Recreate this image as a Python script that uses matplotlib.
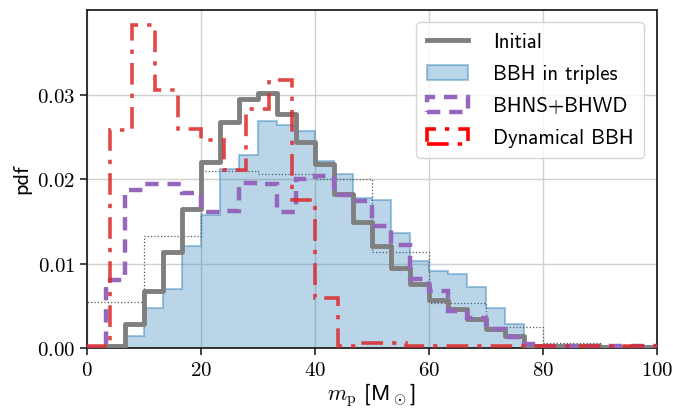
import matplotlib
matplotlib.use('Agg')
import matplotlib.pyplot as plt
import numpy as np

# bin edges (3.33 width for most, 4 for dynamical, 10 for the thin dotted one)
edges_fine = np.linspace(0, 100, 31)
edges_dyn = np.linspace(0, 100, 26)
edges_wide = np.linspace(0, 100, 11)

initial = [0.0, 0.0003, 0.0028, 0.0068, 0.0114, 0.0165, 0.0221, 0.0268, 0.0295, 0.0302,
           0.0278, 0.0244, 0.0218, 0.0183, 0.0149, 0.0121, 0.0095, 0.0076, 0.0057, 0.0046,
           0.0035, 0.0023, 0.0014, 0.0003, 0.0002, 0.0002, 0.0002, 0.0001, 0.0001, 0.0001]
bbh_triples = [0.0, 0.0, 0.0014, 0.0047, 0.0070, 0.0121, 0.0158, 0.0212, 0.0229, 0.0269,
               0.0265, 0.0257, 0.0222, 0.0206, 0.0178, 0.0176, 0.0137, 0.0103, 0.0092, 0.0088,
               0.0072, 0.0047, 0.0028, 0.0002, 0.0001, 0.0001, 0.0001, 0.0001, 0.0001, 0.0001]
bhns_bhwd = [0.0, 0.0081, 0.0188, 0.0195, 0.0194, 0.0184, 0.0161, 0.0162, 0.0196, 0.0194,
             0.0161, 0.0200, 0.0204, 0.0182, 0.0175, 0.0145, 0.0122, 0.0082, 0.0068, 0.0044,
             0.0036, 0.0023, 0.0013, 0.0005, 0.0003, 0.0002, 0.0002, 0.0002, 0.0002, 0.0002]
dyn_bbh = [0.0002, 0.0259, 0.0383, 0.0306, 0.0260, 0.0247, 0.0211, 0.0283, 0.0318, 0.0176,
           0.0059, 0.0002, 0.0006, 0.0006, 0.0002, 0.0002, 0.0002, 0.0002, 0.0002, 0.0002,
           0.0002, 0.0002, 0.0002, 0.0002, 0.0002]
wide = [0.0055, 0.0133, 0.0210, 0.0206, 0.0201, 0.0114, 0.0053, 0.0025, 0.0006, 0.0002]

xticks = [0, 20, 40, 60, 80, 100]
yticks = [0.0, 0.01, 0.02, 0.03]

plt.rcParams['mathtext.fontset'] = 'cm'
plt.rcParams['axes.formatter.use_mathtext'] = True

fig = plt.figure(figsize=(6.73, 4.11), dpi=100)
ax = fig.add_axes([0.129, 0.153, 0.847, 0.823])

ax.stairs(wide, edges_wide, color='#555555', lw=0.9, ls=':', zorder=2)
ax.stairs(bbh_triples, edges_fine, fill=True, color='tab:blue', alpha=0.3, lw=0, zorder=2)
ax.stairs(bbh_triples, edges_fine, color='tab:blue', alpha=0.4, lw=1.5, zorder=2)
ax.plot(edges_fine, np.append(initial, initial[-1]), drawstyle='steps-post',
        color='#7f7f7f', lw=3.5, zorder=3, label='Initial')
ax.stairs(bhns_bhwd, edges_fine, color='#9467bd', lw=3.2, ls=(0, (3, 2)), zorder=4)
ax.stairs(dyn_bbh, edges_dyn, color='#dc2828', alpha=0.85, lw=2.6,
          ls=(0, (6, 2.5, 1.2, 2.5)), zorder=5)

handles = [
    plt.Line2D([], [], color='#7f7f7f', lw=3.5),
    matplotlib.patches.Patch(facecolor=(0.12, 0.47, 0.71, 0.3), edgecolor=(0.12, 0.47, 0.71, 0.4), lw=1.5),
    matplotlib.patches.Patch(facecolor='none', edgecolor='#9467bd', lw=3.2, ls=(0, (3, 2))),
    matplotlib.patches.Patch(facecolor='none', edgecolor='red', lw=2.6, ls=(0, (6, 2.5, 1.2, 2.5))),
]
labels = ['Initial', 'BBH in triples', 'BHNS+BHWD', 'Dynamical BBH']
leg = ax.legend(handles, labels, loc='upper right', prop={'family': 'cmss10', 'size': 15},
                frameon=True, fancybox=True, edgecolor='#cccccc', framealpha=0.8,
                borderaxespad=0.6, handlelength=2.0, handletextpad=1.2,
                labelspacing=0.62, borderpad=0.5)

ax.set_xlim(0, 100)
ax.set_ylim(0, 0.0401)
ax.set_xticks(xticks)
ax.set_yticks(yticks)
ax.set_xticklabels(['$%d$' % t for t in xticks])
ax.set_yticklabels(['$%.2f$' % t for t in yticks])
ax.tick_params(labelsize=15, length=5, width=1.2, color='#222222', direction='out')
ax.grid(True, color='#d0d0d0', lw=1.0, zorder=0)
ax.set_axisbelow(True)
for s in ax.spines.values():
    s.set_color('#222222')
    s.set_linewidth(1.3)

ax.set_xlabel(r'$m_\mathrm{p}$ [M$_\odot$]', fontsize=16, family='cmss10', labelpad=1)
ax.set_ylabel('pdf', fontsize=16, family='cmss10')

fig.savefig('out.png', dpi=100)
